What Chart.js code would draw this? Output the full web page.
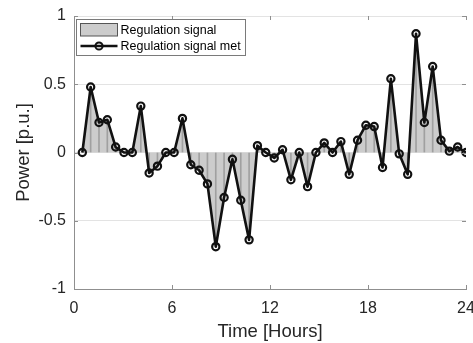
<!DOCTYPE html>
<html>
<head>
<meta charset="utf-8">
<script src="https://cdn.jsdelivr.net/npm/chart.js@4/dist/chart.umd.min.js"></script>
<style>
    html, body { margin: 0; padding: 0; background: #fff; }
    #wrap { width: 473px; height: 343px; }
</style>
</head>
<body>
<div id="wrap"><canvas id="powerChart" width="473" height="343"></canvas></div>
<script>
// Time of each sample (hours)
const hours = [0.51, 1.02, 1.53, 2.04, 2.55, 3.06, 3.57, 4.09, 4.60, 5.11,
               5.62, 6.13, 6.64, 7.15, 7.66, 8.17, 8.68, 9.19, 9.70, 10.21,
               10.72, 11.23, 11.74, 12.26, 12.77, 13.28, 13.79, 14.30, 14.81, 15.32,
               15.83, 16.34, 16.85, 17.36, 17.87, 18.38, 18.89, 19.40, 19.91, 20.43,
               20.94, 21.45, 21.96, 22.47, 22.98, 23.49, 24.00];

// Regulation signal (p.u.)
const regulationSignal = [0, 0.48, 0.22, 0.24, 0.04, 0, 0, 0.34, -0.15, -0.10,
                          0, 0, 0.25, -0.09, -0.13, -0.23, -0.69, -0.33, -0.05, -0.35,
                          -0.64, 0.05, 0, -0.04, 0.02, -0.20, 0, -0.25, 0, 0.07,
                          0, 0.08, -0.16, 0.09, 0.20, 0.19, -0.11, 0.54, -0.01, -0.16,
                          0.87, 0.22, 0.63, 0.09, 0.01, 0.04, 0];

// Regulation signal met (p.u.)
const signalMet = [0, 0.48, 0.22, 0.24, 0.04, 0, 0, 0.34, -0.15, -0.10,
                   0, 0, 0.25, -0.09, -0.13, -0.23, -0.69, -0.33, -0.05, -0.35,
                   -0.64, 0.05, 0, -0.04, 0.02, -0.20, 0, -0.25, 0, 0.07,
                   0, 0.08, -0.16, 0.09, 0.20, 0.19, -0.11, 0.54, -0.01, -0.16,
                   0.87, 0.22, 0.63, 0.09, 0.01, 0.04, 0];

const xTicks = [0, 6, 12, 18, 24];
const yTicks = [-1, -0.5, 0, 0.5, 1];

const labelSignal = "Regulation signal";
const labelMet = "Regulation signal met";

const FONT = "'Liberation Sans', Arial, Helvetica, sans-serif";
const TEXT = "#262626";
const AXIS = "#8f8f8f";
const FILL = "#cccccc";

const toPoints = vals => vals.map((v, i) => ({ x: hours[i], y: v }));

// inner tick marks + legend box inside the axes
const frameExtras = {
    id: "frameExtras",
    afterDraw(chart) {
        const { ctx, chartArea: a, scales: { x, y } } = chart;
        ctx.save();
        ctx.strokeStyle = AXIS;
        ctx.lineWidth = 1;
        ctx.beginPath();
        xTicks.forEach(v => {
            const px = Math.round(x.getPixelForValue(v)) + 0.5;
            ctx.moveTo(px, a.top); ctx.lineTo(px, a.top + 4);
            ctx.moveTo(px, a.bottom); ctx.lineTo(px, a.bottom - 4);
        });
        yTicks.forEach(v => {
            const py = Math.round(y.getPixelForValue(v)) + 0.5;
            ctx.moveTo(a.left, py); ctx.lineTo(a.left + 4, py);
            ctx.moveTo(a.right, py); ctx.lineTo(a.right - 4, py);
        });
        ctx.stroke();

        // legend
        const lx = a.left + 2.5, ly = a.top + 3.5, lw = 169, lh = 36;
        ctx.fillStyle = "#fff";
        ctx.fillRect(lx, ly, lw, lh);
        ctx.strokeStyle = "#7a7a7a";
        ctx.strokeRect(lx, ly, lw, lh);

        const r1 = ly + 10.5, r2 = ly + 26.5;
        ctx.fillStyle = FILL;
        ctx.fillRect(lx + 4, r1 - 6.5, 37, 12.5);
        ctx.strokeStyle = "#555";
        ctx.strokeRect(lx + 4, r1 - 6.5, 37, 12.5);

        ctx.strokeStyle = "#111";
        ctx.lineWidth = 2.5;
        ctx.beginPath();
        ctx.moveTo(lx + 4, r2); ctx.lineTo(lx + 41, r2);
        ctx.stroke();
        ctx.lineWidth = 2;
        ctx.beginPath();
        ctx.arc(lx + 22.5, r2, 3.6, 0, Math.PI * 2);
        ctx.stroke();

        ctx.fillStyle = "#000";
        ctx.font = "12.5px " + FONT;
        ctx.textBaseline = "middle";
        ctx.fillText(labelSignal, lx + 44, r1 + 0.5);
        ctx.fillText(labelMet, lx + 44, r2 + 0.5);
        ctx.restore();
    }
};

new Chart(document.getElementById("powerChart"), {
    type: "line",
    data: {
        datasets: [
            {
                label: labelMet,
                data: toPoints(signalMet),
                borderColor: "#111",
                borderWidth: 2.6,
                borderJoinStyle: "round",
                pointRadius: 3.6,
                pointBorderWidth: 2.2,
                pointBorderColor: "#111",
                pointBackgroundColor: "rgba(0,0,0,0)",
                fill: false,
                tension: 0,
                order: 0
            },
            {
                type: "bar",
                label: "stems",
                data: toPoints(regulationSignal),
                backgroundColor: "#a0a0a0",
                barThickness: 1,
                order: 1
            },
            {
                label: labelSignal,
                data: toPoints(regulationSignal),
                borderColor: "rgba(0,0,0,0)",
                borderWidth: 0,
                backgroundColor: FILL,
                pointRadius: 0,
                fill: "origin",
                tension: 0,
                order: 2
            }
        ]
    },
    options: {
        responsive: false,
        animation: false,
        events: [],
        layout: { padding: { top: 16, right: 7, left: 0, bottom: 0 } },
        plugins: {
            legend: { display: false },
            tooltip: { enabled: false }
        },
        scales: {
            x: {
                type: "linear",
                min: 0,
                max: 24,
                offset: false,
                afterBuildTicks: s => { s.ticks = xTicks.map(v => ({ value: v })); },
                afterFit: s => { s.height = 54; s.paddingLeft = 0; s.paddingRight = 0; },
                grid: { display: false, drawTicks: false },
                border: { color: AXIS, width: 1 },
                ticks: { color: TEXT, font: { family: FONT, size: 16 }, padding: 10, maxRotation: 0,
                         callback: v => String(v) },
                title: {
                    display: true,
                    text: "Time [Hours]",
                    color: TEXT,
                    font: { family: FONT, size: 18.5 },
                    padding: { top: 0, bottom: 0 }
                }
            },
            y: {
                min: -1,
                max: 1,
                afterBuildTicks: s => { s.ticks = yTicks.map(v => ({ value: v })); },
                afterFit: s => { s.width = 74; s.paddingTop = 0; s.paddingBottom = 0; },
                grid: { color: "#e3e3e3", drawTicks: false },
                border: { color: AXIS, width: 1 },
                ticks: { color: TEXT, font: { family: FONT, size: 16 }, padding: 8,
                         callback: v => String(v) },
                title: {
                    display: true,
                    text: "Power [p.u.]",
                    color: TEXT,
                    font: { family: FONT, size: 18.5 },
                    padding: { top: 13, bottom: 0 }
                }
            }
        }
    },
    plugins: [frameExtras]
});
</script>
</body>
</html>
